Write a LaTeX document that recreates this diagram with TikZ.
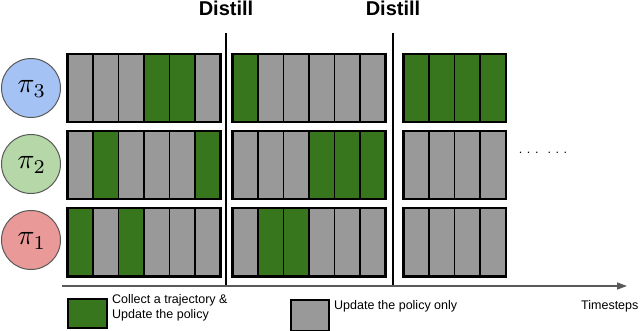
\documentclass[tikz,border=0pt]{standalone}
\usepackage{fontspec}
\setmainfont{Liberation Sans}
\usetikzlibrary{arrows.meta}
\definecolor{gn}{HTML}{38761D}
\definecolor{gy}{HTML}{999999}
\definecolor{cblue}{HTML}{A4C2F4}
\definecolor{cgreen}{HTML}{B6D7A8}
\definecolor{cred}{HTML}{EA9999}
\definecolor{axisgray}{HTML}{595959}
\newcommand{\polname}[1]{\scalebox{2.8}{$\pi_{#1}$}}
\begin{document}
\begin{tikzpicture}[x=1pt,y=-1pt,
  cellbox/.style={draw=black,line width=1.5pt,minimum width=25.4pt,minimum height=67pt,inner sep=0pt,anchor=north west},
  grpbox/.style={draw=black,line width=2pt},
  policy/.style={circle,draw=axisgray,line width=1pt,minimum size=59pt,inner sep=0pt},
  distlabel/.style={font=\fontsize{20}{22}\selectfont\bfseries,inner sep=0pt},
  distline/.style={draw=black,line width=1.8pt},
  legtext/.style={font=\fontsize{12.5}{15}\selectfont,inner sep=0pt,anchor=west,align=left},
  legbox/.style={draw=black,line width=1.6pt,inner sep=0pt,anchor=north west}]
\useasboundingbox (0,0) rectangle (640,331);

% policies
\node[policy,fill=cblue] (p3) at (31,88) {};
\node[policy,fill=cgreen] (p2) at (31,164) {};
\node[policy,fill=cred] (p1) at (31,240) {};
\node[inner sep=0pt] (l3) at (32,89) {\polname{3}};
\node[inner sep=0pt] (l2) at (32,165) {\polname{2}};
\node[inner sep=0pt] (l1) at (32,241) {\polname{1}};

% cells: rows top y
\foreach \rowname/\ry/\ga/\gb/\gc in {
   a/54/{gy,gy,gy,gn,gn,gy}/{gn,gy,gy,gy,gy,gy}/{gn,gn,gn,gn},
   b/131/{gy,gn,gy,gy,gy,gn}/{gy,gy,gy,gn,gn,gn}/{gy,gy,gy,gy},
   c/208/{gn,gy,gn,gy,gy,gy}/{gy,gn,gn,gy,gy,gy}/{gy,gy,gy,gy}}{
  \foreach \col [count=\i] in \ga {
    \node[cellbox,fill=\col] (\rowname-1-\i) at ({67+(\i-1)*25.4},\ry) {};
  }
  \foreach \col [count=\i] in \gb {
    \node[cellbox,fill=\col] (\rowname-2-\i) at ({232+(\i-1)*25.4},\ry) {};
  }
  \foreach \col [count=\i] in \gc {
    \node[cellbox,fill=\col] (\rowname-3-\i) at ({403+(\i-1)*25.4},\ry) {};
  }
  \draw[grpbox] (\rowname-1-1.north west) rectangle (\rowname-1-6.south east);
  \draw[grpbox] (\rowname-2-1.north west) rectangle (\rowname-2-6.south east);
  \draw[grpbox] (\rowname-3-1.north west) rectangle (\rowname-3-4.south east);
}

% distill
\node[distlabel] (dl1) at (226,8) {Distill};
\node[distlabel] (dl2) at (393,8) {Distill};
\coordinate (d1t) at (226,33);
\coordinate (d1b) at (226,287);
\coordinate (d2t) at (393,33);
\coordinate (d2b) at (393,287);
\draw[distline] (d1t) -- (d1b);
\draw[distline] (d2t) -- (d2b);

% axis
\coordinate (axs) at (62,286);
\coordinate (axe) at (627,286);
\draw[axisgray,line width=1.3pt,-{Triangle[length=10pt,width=7pt]}] (axs) -- (axe);

% dots
\node[inner sep=0pt,font=\fontsize{12.5}{15}\selectfont] (dots) at (543,153) {. . .\hspace{9pt}. . .};

% legend
\node[legbox,fill=gn,minimum width=39pt,minimum height=29pt] (lg1) at (67,298) {};
\node[legtext] (lt1) at (112,308) {Collect a trajectory \&\\Update the policy};
\node[legbox,fill=gy,minimum width=38pt,minimum height=31pt] (lg2) at (290,299) {};
\node[legtext] (lt2) at (334,306) {Update the policy only};
\node[legtext] (lt3) at (581,306) {Timesteps};
\end{tikzpicture}
\end{document}
